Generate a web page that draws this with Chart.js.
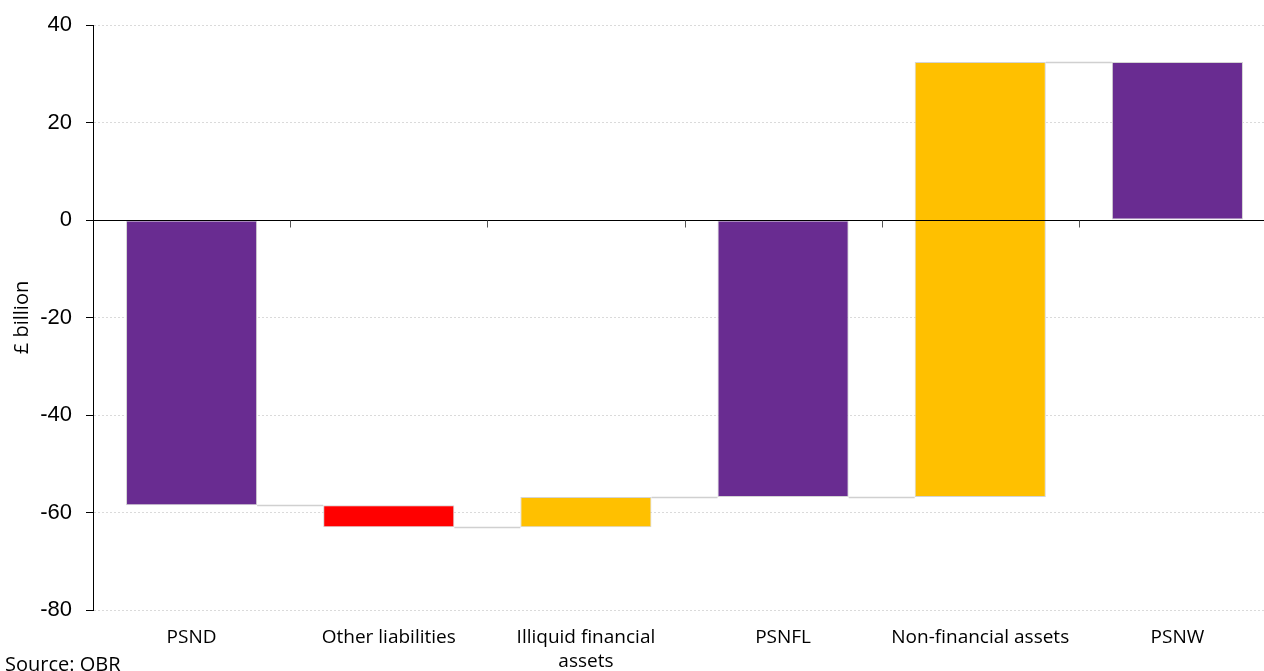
<!DOCTYPE html>
<html>
<head>
<meta charset="utf-8">
<script src="https://cdn.jsdelivr.net/npm/chart.js"></script>
<style>
  html, body { margin: 0; padding: 0; background: #fff; }
  #wrap { position: relative; width: 1264px; height: 671px; overflow: hidden; }
  #source { position: absolute; left: 5px; top: 650px; font: 20px "Open Sans", sans-serif; color: #000; white-space: nowrap; }
</style>
</head>
<body>
<div id="wrap">
  <canvas id="chart" width="1276" height="671"></canvas>
  <div id="source">Source: OBR</div>
</div>
<script>
// waterfall pieces, £ billion
const categories = ['PSND', 'Other liabilities', ['Illiquid financial', 'assets'], 'PSNFL', 'Non-financial assets', 'PSNW'];
const barStart = [0, -58.5, -63.0, 0, -56.8, 0];
const barEnd = [-58.5, -63.0, -56.8, -56.8, 32.4, 32.4];
const barColours = ['#692c91', '#ff0000', '#ffc000', '#692c91', '#ffc000', '#692c91'];
const yTicks = { min: -80, max: 40, step: 20 };

const FONT = '"Open Sans", sans-serif';

// connectors, zero line and category ticks on the zero line
const waterfallExtras = {
  id: 'waterfallExtras',
  afterDatasetsDraw(chart) {
    const { ctx, chartArea, scales: { x, y } } = chart;
    const meta = chart.getDatasetMeta(0);
    ctx.save();
    ctx.strokeStyle = '#d0d0d0';
    ctx.lineWidth = 1.5;
    for (let i = 0; i < meta.data.length - 1; i++) {
      const a = meta.data[i], b = meta.data[i + 1];
      const yy = Math.round(y.getPixelForValue(barEnd[i])) + 0.5;
      ctx.beginPath();
      ctx.moveTo(a.x + a.width / 2, yy);
      ctx.lineTo(b.x - b.width / 2, yy);
      ctx.stroke();
    }
    const y0 = Math.round(y.getPixelForValue(0)) + 0.5;
    ctx.strokeStyle = '#000';
    ctx.lineWidth = 1.2;
    ctx.beginPath();
    ctx.moveTo(chartArea.left, y0);
    ctx.lineTo(chartArea.right, y0);
    ctx.stroke();
    ctx.strokeStyle = '#555';
    ctx.lineWidth = 1;
    const step = x.getPixelForValue(1) - x.getPixelForValue(0);
    for (let i = 1; i < categories.length; i++) {
      const xx = Math.round(x.getPixelForValue(i) - step / 2) + 0.5;
      ctx.beginPath();
      ctx.moveTo(xx, y0);
      ctx.lineTo(xx, y0 + 7);
      ctx.stroke();
    }
    ctx.restore();
  }
};

new Chart(document.getElementById('chart'), {
  type: 'bar',
  data: {
    labels: categories,
    datasets: [{
      data: barStart.map((s, i) => [s, barEnd[i]]),
      backgroundColor: barColours,
      borderColor: '#d4d4d4',
      borderWidth: 1,
      borderSkipped: false,
      barPercentage: 0.665,
      categoryPercentage: 1
    }]
  },
  options: {
    responsive: false,
    animation: false,
    layout: { padding: { top: 25, right: 0, left: 0, bottom: 0 } },
    plugins: { legend: { display: false }, tooltip: { enabled: false } },
    scales: {
      x: {
        grid: { display: false, drawTicks: false },
        border: { display: false },
        ticks: { color: '#000', padding: 15, font: { family: FONT, size: 19, lineHeight: 1.3 }, maxRotation: 0, autoSkip: false },
        afterFit(scale) { scale.height = 61; }
      },
      y: {
        min: yTicks.min,
        max: yTicks.max,
        ticks: { stepSize: yTicks.step, color: '#000', padding: 14, font: { family: '"Liberation Sans", Arial, sans-serif', size: 22, lineHeight: 1 } },
        grid: { color: '#dadada', tickColor: '#000', tickLength: 7, lineWidth: 1 },
        border: { display: true, color: '#000', width: 1, dash: [2, 2] },
        title: { display: true, text: '£ billion', color: '#000', font: { family: FONT, size: 20 }, padding: { top: 10, bottom: 0 } },
        afterFit(scale) { scale.width = 93; }
      }
    }
  },
  plugins: [waterfallExtras]
});
</script>
</body>
</html>
